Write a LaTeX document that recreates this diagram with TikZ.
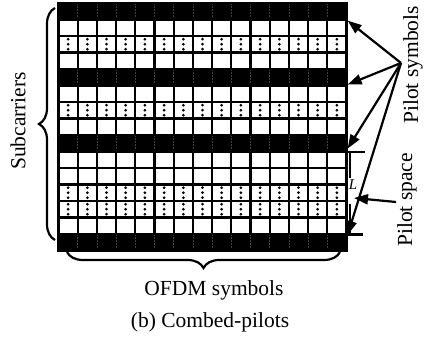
\documentclass[tikz,border=0pt]{standalone}
\usepackage{fontspec}
\setmainfont{Liberation Serif}
\usetikzlibrary{positioning, arrows.meta, decorations.pathreplacing}

\begin{document}
\begin{tikzpicture}[
    x=1pt, y=-1pt,
    every node/.style={font=\fontsize{21.5}{24}\selectfont},
    cell/.style={
        rectangle,
        draw=black,
        line width=2.2pt,
        minimum width=19.2pt,
        minimum height=16.5pt,
        inner sep=0pt,
        fill=white
    },
    pilotrow/.style={
        rectangle,
        draw=black,
        line width=2.2pt,
        minimum width=288pt,
        minimum height=16.5pt,
        inner sep=0pt,
        fill=black
    },
    label/.style={inner sep=1pt},
    arrow/.style={-{Triangle[length=14pt,width=10pt]}, line width=2.2pt},
    brace/.style={decorate, decoration={brace, amplitude=16pt}, line width=2.2pt},
    dimline/.style={line width=2.2pt}
]
\useasboundingbox (0,0) rectangle (432,342);

\foreach \r in {1,2,3,5,6,7,9,10,11,12,13}
  \foreach \c in {0,...,14}
    \node[cell] (c-\r-\c) at ({68.1+19.2*\c},{11.25+16.5*\r}) {};

\foreach \r in {2,6,11,12}
  \foreach \c in {0,...,14}
    \foreach \d in {-5,0,5}
      \fill ({68.1+19.2*\c},{11.25+16.5*\r+\d}) circle (1.5pt);

\foreach \r in {0,4,8,14}
  \node[pilotrow] (p\r) at (202.5,{11.25+16.5*\r}) {};

\foreach \r in {0,4,8,14}
  \foreach \c in {1,...,14}
    \draw[black!75, densely dotted, line width=0.5pt]
      ({58.5+19.2*\c},{3+16.5*\r+1.5}) -- ({58.5+19.2*\c},{3+16.5*\r+15});

\node[label, rotate=90] (sub) at (18,121) {Subcarriers};
\node[label, rotate=90] (sym) at (413,65) {Pilot symbols};
\node[label, rotate=90] (space) at (407,200) {Pilot space};
\node[label] (ofdm) at (214,290) {OFDM symbols};
\node[label] (caption) at (210,322) {(b) Combed-pilots};

\draw[brace] (55,240) -- (55,8);
\draw[brace] (340,252) -- (67,252);

\coordinate (fan) at (401,63);
\draw[arrow] (fan) -- (p0.south east);
\draw[arrow] (fan) -- ([yshift=2pt]p4.south east);
\draw[arrow] (fan) -- ([yshift=4pt]p8.south east);
\draw[arrow] (fan) -- ([yshift=-2pt]p14.north east);

\coordinate (Ltop) at (350,152);
\coordinate (Lbot) at (350,234.5);
\node[font=\fontsize{15}{17}\selectfont\itshape, inner sep=0pt] (L) at (353,185) {L};
\draw[dimline] ([xshift=-6pt]Ltop) -- ([xshift=15pt]Ltop);
\draw[dimline] ([xshift=-6pt]Lbot) -- ([xshift=13pt]Lbot);
\draw[dimline] (Ltop) -- (350,178);
\draw[dimline] (350,204) -- (Lbot);

\coordinate (spacetip) at (354,198);
\draw[arrow] ([yshift=-2pt]space.north) -- (spacetip);

\end{tikzpicture}
\end{document}
